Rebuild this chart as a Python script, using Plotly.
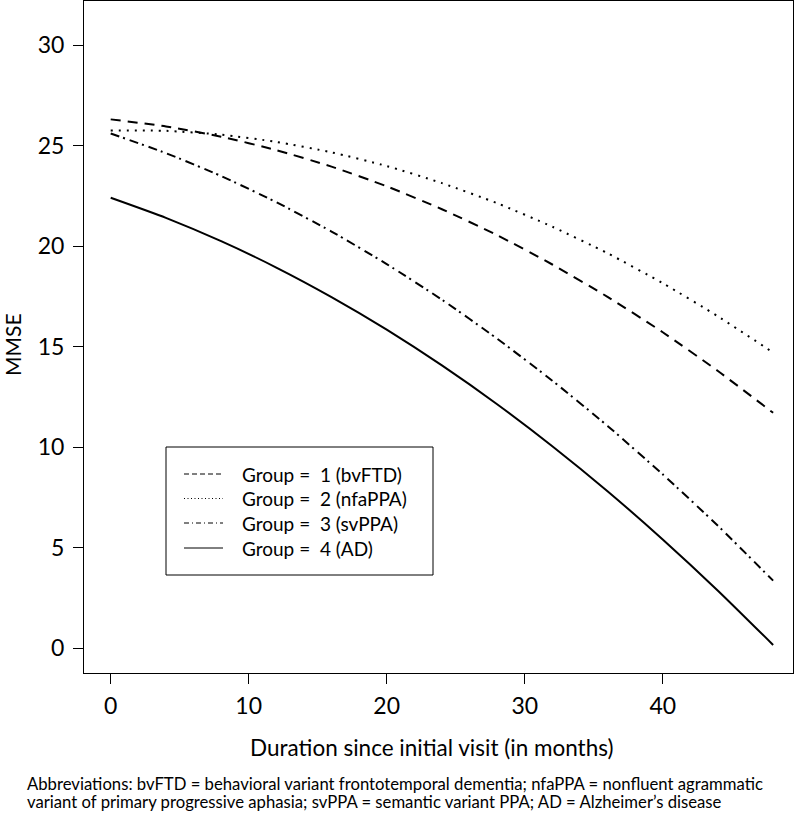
import plotly.graph_objects as go

# Months since initial visit
months = [0, 4, 8, 12, 16, 20, 24, 28, 32, 36, 40, 44, 48]

# Estimated MMSE trajectories
g1_bvftd = [26.30, 25.95, 25.44, 24.77, 23.95, 22.97, 21.83, 20.54, 19.08, 17.47, 15.71, 13.78, 11.70]
g2_nfappa = [25.75, 25.73, 25.54, 25.18, 24.66, 23.98, 23.13, 22.13, 20.96, 19.64, 18.15, 16.50, 14.70]
g3_svppa = [25.60, 24.62, 23.48, 22.18, 20.72, 19.10, 17.33, 15.39, 13.30, 11.05, 8.64, 6.08, 3.35]
g4_ad = [22.40, 21.40, 20.24, 18.93, 17.46, 15.84, 14.06, 12.13, 10.04, 7.80, 5.40, 2.85, 0.15]

names = ["Group =\u00a0\u00a01 (bvFTD)", "Group =\u00a0\u00a02 (nfaPPA)",
         "Group =\u00a0\u00a03 (svPPA)", "Group =\u00a0\u00a04 (AD)"]
series = [g1_bvftd, g2_nfappa, g3_svppa, g4_ad]

x_ticks = [0, 10, 20, 30, 40]
y_ticks = [0, 5, 10, 15, 20, 25, 30]

x_title = "Duration since initial visit (in months)"
y_title = "MMSE"
caption_lines = [
    "Abbreviations: bvFTD = behavioral variant frontotemporal dementia; nfaPPA = nonfluent agrammatic",
    "variant of primary progressive aphasia; svPPA = semantic variant PPA; AD = Alzheimer\u2019s disease",
]

# ---- styling / geometry ----
FONT = "Lato, 'Open Sans', sans-serif"
W, H = 800, 834
L, R, T, B = 84, 7, 1, 161
PW, PH = W - L - R, H - T - B

def px(xp):
    return (xp - L) / PW

def py(yp):
    return (T + PH - yp) / PH

plot_dash = ["10px,7px", "2px,6px", "9px,4px,2px,5px", "solid"]
legend_dash = ["5px,3px", "1px,2.5px", "5px,3px,1px,3px", "solid"]

fig = go.Figure()
for name, ys, dash in zip(names, series, plot_dash):
    fig.add_trace(go.Scatter(
        x=months, y=ys, mode="lines", name=name, showlegend=False,
        line=dict(color="black", width=2, dash=dash, shape="spline", smoothing=0.6),
    ))

shapes = [dict(type="rect", xref="paper", yref="paper",
               x0=px(166), x1=px(433), y0=py(575), y1=py(447),
               line=dict(color="black", width=1), fillcolor="white", layer="above")]
annotations = []
row_y = [474, 498.5, 523, 548]
for i, name in enumerate(names):
    shapes.append(dict(type="line", xref="paper", yref="paper",
                       x0=px(184), x1=px(223), y0=py(row_y[i]), y1=py(row_y[i]),
                       line=dict(color="black", width=1, dash=legend_dash[i]), layer="above"))
    annotations.append(dict(text=name, xref="paper", yref="paper",
                            x=px(240), y=py(row_y[i]), xanchor="left", yanchor="middle",
                            showarrow=False, font=dict(family=FONT, size=19, color="black")))

annotations.append(dict(text=x_title, xref="paper", yref="paper", x=px(431.5), y=py(747),
                        xanchor="center", yanchor="middle", showarrow=False,
                        font=dict(family=FONT, size=22.5, color="black")))
annotations.append(dict(text=y_title, xref="paper", yref="paper", x=px(12), y=py(345),
                        xanchor="center", yanchor="middle", textangle=-90, showarrow=False,
                        font=dict(family=FONT, size=21, color="black")))
for yc, line in zip([784, 802], caption_lines):
    annotations.append(dict(text=line, xref="paper", yref="paper", x=px(25), y=py(yc),
                            xanchor="left", yanchor="middle", showarrow=False,
                            font=dict(family=FONT, size=16.7, color="black")))

fig.update_layout(
    width=W, height=H,
    margin=dict(l=L, r=R, t=T, b=B),
    paper_bgcolor="white", plot_bgcolor="white",
    font=dict(family=FONT, color="black", size=20),
    showlegend=False,
    xaxis=dict(
        range=[-1.935, 49.44], tickvals=x_ticks, ticks="outside", ticklen=10,
        tickcolor="black", showgrid=False, zeroline=False, automargin=False,
        showline=True, linecolor="black", linewidth=1, mirror=True,
        tickfont=dict(size=23), ticklabelstandoff=2,
    ),
    yaxis=dict(
        range=[-1.244, 32.19], tickvals=y_ticks, ticks="outside", ticklen=10,
        tickcolor="black", showgrid=False, zeroline=False, automargin=False,
        showline=True, linecolor="black", linewidth=1, mirror=True,
        tickfont=dict(size=23), ticklabelstandoff=4,
    ),
    shapes=shapes,
    annotations=annotations,
)

fig.write_html(
    "out.html",
    config={"displayModeBar": False},
    post_script="document.body.style.margin='0';document.body.style.padding='0';",
)
